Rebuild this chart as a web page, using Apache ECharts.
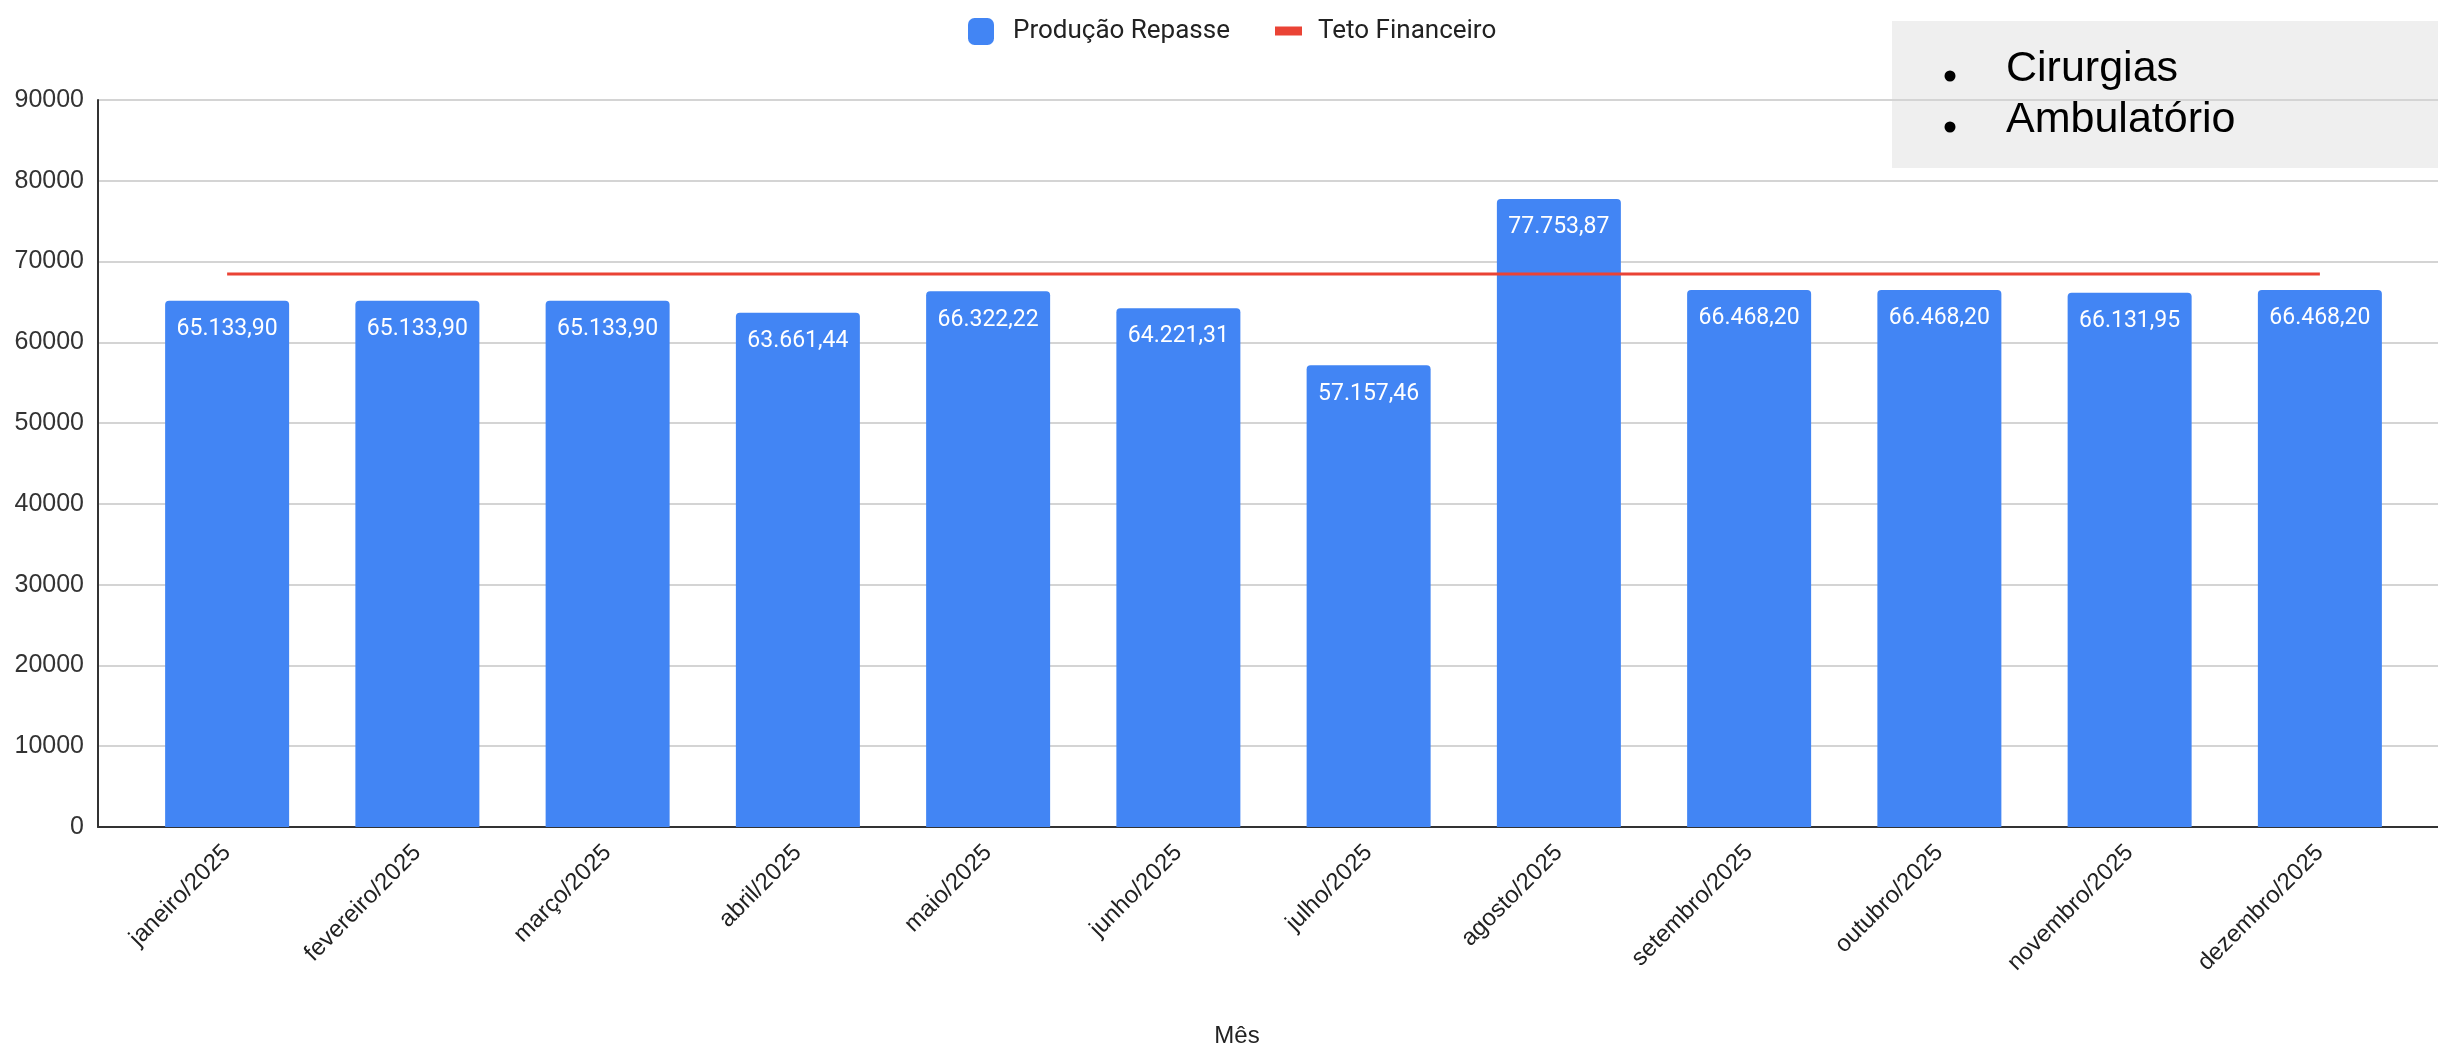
<!DOCTYPE html>
<html>
<head>
<meta charset="utf-8">
<script src="https://cdn.jsdelivr.net/npm/echarts@6/dist/echarts.min.js"></script>
<style>
  html, body { margin: 0; padding: 0; background: #fff; }
  #chart { width: 2438px; height: 1053px; }
</style>
</head>
<body>
<div id="chart"></div>
<script>
// ---- data ----
const months = ['janeiro/2025','fevereiro/2025','março/2025','abril/2025','maio/2025','junho/2025',
                'julho/2025','agosto/2025','setembro/2025','outubro/2025','novembro/2025','dezembro/2025'];
const producaoRepasse = [65133.90, 65133.90, 65133.90, 63661.44, 66322.22, 64221.31,
                         57157.46, 77753.87, 66468.20, 66468.20, 66131.95, 66468.20];
const tetoFinanceiro = [68450, 68450, 68450, 68450, 68450, 68450,
                        68450, 68450, 68450, 68450, 68450, 68450];
const yTicks = { min: 0, max: 90000, interval: 10000 };
const bulletItems = ['Cirurgias', 'Ambulatório'];
const xTitle = 'Mês';

function br(n) {
  const parts = n.toFixed(2).split('.');
  return parts[0].replace(/\B(?=(\d{3})+(?!\d))/g, '.') + ',' + parts[1];
}

const chart = echarts.init(document.getElementById('chart'), null, { renderer: 'canvas' });

const graphics = [
  { type: 'rect', z: -1, shape: { x: 1892, y: 21, width: 546, height: 147 }, style: { fill: '#efefef' } },
  { type: 'text', x: 1237, y: 1036, style: { text: xTitle, font: '24px "Liberation Sans", Arial, sans-serif', fill: '#222', align: 'center', verticalAlign: 'middle' } }
];
bulletItems.forEach(function (t, i) {
  graphics.push({ type: 'circle', shape: { cx: 1950, cy: 76 + i * 51, r: 5.5 }, style: { fill: '#000' } });
  graphics.push({ type: 'text', x: 2006, y: 69 + i * 51, style: { text: t, font: '43px "Liberation Sans", Arial, sans-serif', fill: '#000', align: 'left', verticalAlign: 'middle' } });
});

const option = {
  animation: false,
  backgroundColor: '#ffffff',
  legend: [
    {
      data: [{ name: 'Produção Repasse', icon: 'roundRect' }],
      left: 963, top: 13,
      itemWidth: 26, itemHeight: 27,
      textStyle: { fontFamily: 'Roboto', fontSize: 26, color: '#222', padding: [0, 0, 0, 14] }
    },
    {
      data: [{ name: 'Teto Financeiro', icon: 'rect' }],
      left: 1270, top: 13,
      itemWidth: 27, itemHeight: 9,
      textStyle: { fontFamily: 'Roboto', fontSize: 26, color: '#222', padding: [0, 0, 0, 11] }
    }
  ],
  grid: [
    { left: 98, right: 0, top: 100, bottom: 226 },
    { left: 132, right: 23, top: 100, bottom: 226 }
  ],
  xAxis: [
    {
      gridIndex: 0, type: 'value', min: 0, max: 1,
      axisLine: { show: true, onZero: false, lineStyle: { color: '#333', width: 2 } },
      axisTick: { show: false }, axisLabel: { show: false }, splitLine: { show: false }
    },
    {
      gridIndex: 1, type: 'category', data: months, boundaryGap: true,
      axisLine: { show: false }, axisTick: { show: false },
      axisLabel: {
        rotate: 45, margin: 22, interval: 0,
        fontFamily: '"Liberation Sans", Arial, sans-serif', fontSize: 24, color: '#222'
      }
    }
  ],
  yAxis: [
    {
      gridIndex: 0, type: 'value', min: yTicks.min, max: yTicks.max, interval: yTicks.interval,
      axisLine: { show: true, lineStyle: { color: '#333', width: 2 } },
      axisTick: { show: false },
      axisLabel: {
        margin: 14, fontFamily: '"Liberation Sans", Arial, sans-serif', fontSize: 25, color: '#333',
        formatter: function (v) { return String(v); }
      },
      splitLine: { show: true, lineStyle: { color: '#d4d4d4', width: 2 } }
    },
    {
      gridIndex: 1, type: 'value', min: yTicks.min, max: yTicks.max, interval: yTicks.interval,
      show: false, splitLine: { show: false }
    }
  ],
  series: [
    {
      name: 'Produção Repasse', type: 'bar', xAxisIndex: 1, yAxisIndex: 1,
      data: producaoRepasse, barWidth: 124,
      itemStyle: { color: '#4285f4', borderRadius: [4, 4, 0, 0] },
      label: {
        show: true, position: 'insideTop', distance: 17,
        color: '#ffffff', fontFamily: 'Roboto', fontSize: 23,
        formatter: function (p) { return br(p.value); }
      },
      z: 2
    },
    {
      name: 'Teto Financeiro', type: 'line', xAxisIndex: 1, yAxisIndex: 1,
      data: tetoFinanceiro, symbol: 'none',
      lineStyle: { color: '#ea4335', width: 3 }, itemStyle: { color: '#ea4335' },
      z: 5
    }
  ],
  graphic: graphics
};
chart.setOption(option);
</script>
</body>
</html>
